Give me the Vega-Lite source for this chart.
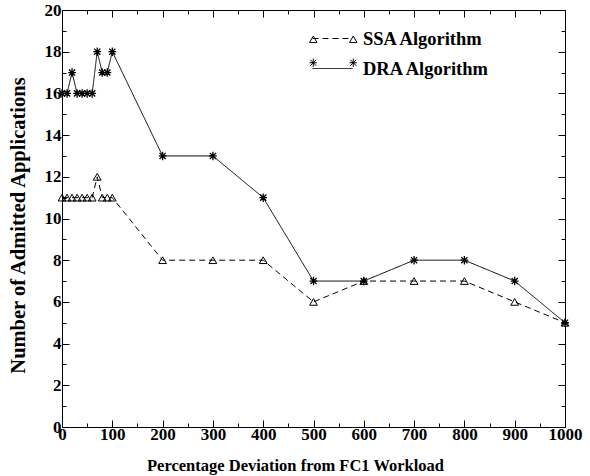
{
  "$schema": "https://vega.github.io/schema/vega-lite/v6.json",
  "width": 503,
  "height": 417,
  "autosize": {"type": "none"},
  "padding": {"left": 62, "top": 10, "right": 25, "bottom": 49},
  "background": "white",
  "config": {
    "view": {"stroke": "black", "strokeWidth": 1},
    "font": "Liberation Serif",
    "axis": {
      "labelFont": "Liberation Serif", "labelFontWeight": "bold", "labelFontSize": 17, "labelColor": "black",
      "titleFont": "Liberation Serif", "titleFontWeight": "bold", "titleFontSize": 16.5, "titleColor": "black",
      "domainColor": "black", "tickColor": "black", "grid": false, "labelOverlap": false, "labelFlush": false
    },
    "legend": {
      "labelFont": "Liberation Serif", "labelFontWeight": "bold", "labelFontSize": 18.5, "labelColor": "black"
    }
  },
  "data": {
    "values": [
      {"x": 0, "v": 11, "series": "SSA Algorithm"},
      {"x": 10, "v": 11, "series": "SSA Algorithm"},
      {"x": 20, "v": 11, "series": "SSA Algorithm"},
      {"x": 30, "v": 11, "series": "SSA Algorithm"},
      {"x": 40, "v": 11, "series": "SSA Algorithm"},
      {"x": 50, "v": 11, "series": "SSA Algorithm"},
      {"x": 60, "v": 11, "series": "SSA Algorithm"},
      {"x": 70, "v": 12, "series": "SSA Algorithm"},
      {"x": 80, "v": 11, "series": "SSA Algorithm"},
      {"x": 90, "v": 11, "series": "SSA Algorithm"},
      {"x": 100, "v": 11, "series": "SSA Algorithm"},
      {"x": 200, "v": 8, "series": "SSA Algorithm"},
      {"x": 300, "v": 8, "series": "SSA Algorithm"},
      {"x": 400, "v": 8, "series": "SSA Algorithm"},
      {"x": 500, "v": 6, "series": "SSA Algorithm"},
      {"x": 600, "v": 7, "series": "SSA Algorithm"},
      {"x": 700, "v": 7, "series": "SSA Algorithm"},
      {"x": 800, "v": 7, "series": "SSA Algorithm"},
      {"x": 900, "v": 6, "series": "SSA Algorithm"},
      {"x": 1000, "v": 5, "series": "SSA Algorithm"},
      {"x": 0, "v": 16, "series": "DRA Algorithm"},
      {"x": 10, "v": 16, "series": "DRA Algorithm"},
      {"x": 20, "v": 17, "series": "DRA Algorithm"},
      {"x": 30, "v": 16, "series": "DRA Algorithm"},
      {"x": 40, "v": 16, "series": "DRA Algorithm"},
      {"x": 50, "v": 16, "series": "DRA Algorithm"},
      {"x": 60, "v": 16, "series": "DRA Algorithm"},
      {"x": 70, "v": 18, "series": "DRA Algorithm"},
      {"x": 80, "v": 17, "series": "DRA Algorithm"},
      {"x": 90, "v": 17, "series": "DRA Algorithm"},
      {"x": 100, "v": 18, "series": "DRA Algorithm"},
      {"x": 200, "v": 13, "series": "DRA Algorithm"},
      {"x": 300, "v": 13, "series": "DRA Algorithm"},
      {"x": 400, "v": 11, "series": "DRA Algorithm"},
      {"x": 500, "v": 7, "series": "DRA Algorithm"},
      {"x": 600, "v": 7, "series": "DRA Algorithm"},
      {"x": 700, "v": 8, "series": "DRA Algorithm"},
      {"x": 800, "v": 8, "series": "DRA Algorithm"},
      {"x": 900, "v": 7, "series": "DRA Algorithm"},
      {"x": 1000, "v": 5, "series": "DRA Algorithm"}
    ]
  },
  "resolve": {"axis": {"x": "independent", "y": "independent"}, "scale": {"shape": "independent"}, "legend": {"shape": "independent"}},
  "layer": [
    {
      "mark": {"type": "line", "color": "black", "strokeWidth": 1},
      "encoding": {
        "x": {
          "field": "x", "type": "quantitative",
          "scale": {"domain": [0, 1000], "nice": false},
          "axis": {
            "orient": "bottom",
            "format": "d",
            "values": [0,50,100,150,200,250,300,350,400,450,500,550,600,650,700,750,800,850,900,950,1000],
            "tickSize": {"condition": {"test": "datum.value % 100 === 0", "value": -7}, "value": -4},
            "labelExpr": "datum.value % 100 === 0 ? datum.label : ''",
            "labelPadding": 6,
            "title": "Percentage Deviation from FC1 Workload",
            "titleX": 233,
            "titlePadding": 12
          }
        },
        "y": {
          "field": "v", "type": "quantitative",
          "scale": {"domain": [0, 20], "nice": false},
          "axis": {
            "orient": "left",
            "values": [0,1,2,3,4,5,6,7,8,9,10,11,12,13,14,15,16,17,18,19,20],
            "tickSize": {"condition": {"test": "datum.value % 2 === 0", "value": -7}, "value": -4},
            "labelExpr": "datum.value % 2 === 0 ? datum.label : ''",
            "labelPadding": 8,
            "title": "Number of Admitted Applications",
            "titleFontSize": 20.5,
            "titleX": -34,
            "titleY": 215
          }
        },
        "detail": {"field": "series"},
        "strokeDash": {
          "field": "series", "type": "nominal",
          "scale": {"domain": ["SSA Algorithm", "DRA Algorithm"], "range": [[6, 4], [1, 0]]},
          "legend": {
            "title": null, "orient": "none", "legendX": 250, "legendY": 8,
            "symbolType": "stroke", "symbolSize": 1600, "symbolStrokeColor": "black", "symbolStrokeWidth": 1,
            "labelOffset": 10, "rowPadding": -18
          }
        }
      }
    },
    {
      "transform": [{"filter": "datum.series === 'SSA Algorithm'"}],
      "mark": {"type": "point", "filled": false, "stroke": "black", "strokeWidth": 1, "opacity": 1, "size": 60},
      "encoding": {
        "x": {
          "field": "x", "type": "quantitative",
          "scale": {"domain": [0, 1000], "nice": false},
          "axis": {
            "orient": "top",
            "values": [0,50,100,150,200,250,300,350,400,450,500,550,600,650,700,750,800,850,900,950,1000],
            "tickSize": {"condition": {"test": "datum.value % 100 === 0", "value": -7}, "value": -4},
            "labels": false, "domain": false, "title": null
          }
        },
        "y": {
          "field": "v", "type": "quantitative",
          "scale": {"domain": [0, 20], "nice": false},
          "axis": {
            "orient": "right",
            "values": [0,1,2,3,4,5,6,7,8,9,10,11,12,13,14,15,16,17,18,19,20],
            "tickSize": {"condition": {"test": "datum.value % 2 === 0", "value": -7}, "value": -4},
            "labels": false, "domain": false, "title": null
          }
        },
        "shape": {
          "field": "series", "type": "nominal",
          "scale": {"domain": ["DRA Algorithm", "SSA Algorithm"], "range": ["M-1,0L1,0M0,-1.1L0,1.1M-0.8,-0.8L0.8,0.8M-0.8,0.8L0.8,-0.8", "triangle-up"]},
          "legend": {
            "title": null, "orient": "none", "legendX": 242, "legendY": 20,
            "values": ["SSA Algorithm", "DRA Algorithm"],
            "labelExpr": "''", "symbolSize": 55, "symbolStrokeColor": "black", "symbolFillColor": "transparent", "symbolStrokeWidth": 1,
            "rowPadding": 4.5
          }
        }
      }
    },
    {
      "transform": [{"filter": "datum.series === 'DRA Algorithm'"}],
      "mark": {"type": "point", "filled": false, "stroke": "black", "strokeWidth": 1.3, "opacity": 1, "size": 60},
      "encoding": {
        "x": {"field": "x", "type": "quantitative", "scale": {"domain": [0, 1000], "nice": false}, "axis": null},
        "y": {"field": "v", "type": "quantitative", "scale": {"domain": [0, 20], "nice": false}, "axis": null},
        "shape": {
          "field": "series", "type": "nominal",
          "scale": {"domain": ["DRA Algorithm", "SSA Algorithm", "none"], "range": ["M-1,0L1,0M0,-1.1L0,1.1M-0.8,-0.8L0.8,0.8M-0.8,0.8L0.8,-0.8", "triangle-up", "circle"]},
          "legend": {
            "title": null, "orient": "none", "legendX": 282, "legendY": 20,
            "values": ["SSA Algorithm", "DRA Algorithm"],
            "labelExpr": "''", "symbolSize": 55, "symbolStrokeColor": "black", "symbolFillColor": "transparent", "symbolStrokeWidth": 1,
            "rowPadding": 4.5
          }
        }
      }
    }
  ]
}
